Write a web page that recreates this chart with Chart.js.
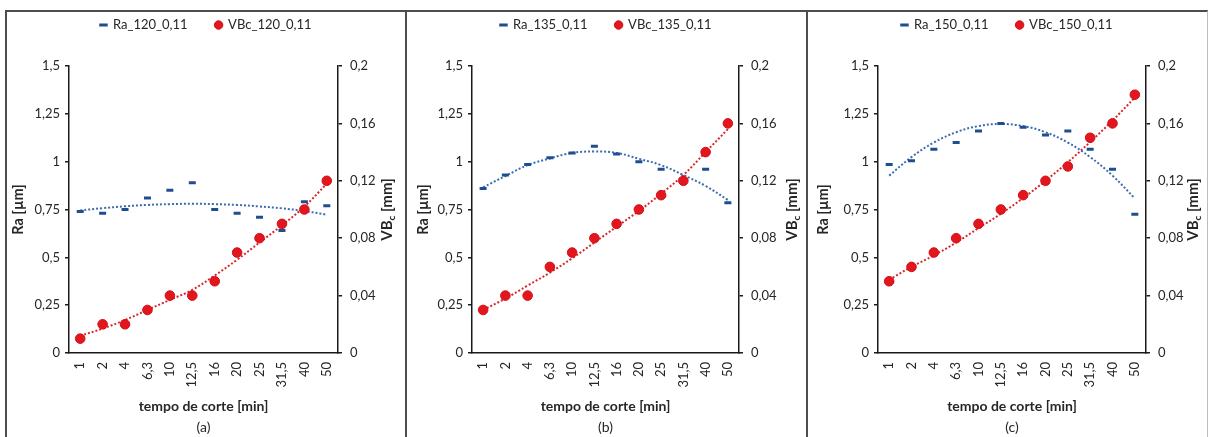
<!DOCTYPE html>
<html>
<head>
<meta charset="utf-8">
<script src="https://cdn.jsdelivr.net/npm/chart.js@4.4.1/dist/chart.umd.min.js"></script>
<style>
  html, body { margin: 0; padding: 0; background: #fff; }
  body { width: 1209px; height: 437px; position: relative; overflow: hidden; }
  .panel { position: absolute; top: 10px; height: 427px; border-left: 2px solid #4d4d4d; border-top: 2px solid #4d4d4d; }
  .panel canvas { position: absolute; left: 0; top: 0; }
</style>
</head>
<body>
<div class="panel" style="left:5px;width:398px"><canvas id="chartA" width="398" height="425"></canvas></div>
<div class="panel" style="left:405px;width:399px"><canvas id="chartB" width="398" height="425"></canvas></div>
<div class="panel" style="left:806px;width:399px;border-right:1px solid #bdbdbd"><canvas id="chartC" width="398" height="425"></canvas></div>
<script>
// tempo de corte [min]
const cuttingTimes = ["1", "2", "4", "6,3", "10", "12,5", "16", "20", "25", "31,5", "40", "50"];

// (a) 120 m/min
const ra120 = [0.74, 0.73, 0.75, 0.81, 0.85, 0.89, 0.75, 0.73, 0.71, 0.64, 0.79, 0.77];
const vbc120 = [0.01, 0.02, 0.02, 0.03, 0.04, 0.04, 0.05, 0.07, 0.08, 0.09, 0.10, 0.12];
const ra120Trend = [0.745, 0.757, 0.767, 0.774, 0.778, 0.78, 0.778, 0.774, 0.766, 0.756, 0.742, 0.723];
const vbc120Trend = [0.012, 0.017, 0.023, 0.030, 0.037, 0.044, 0.054, 0.065, 0.077, 0.089, 0.102, 0.118];

// (b) 135 m/min
const ra135 = [0.86, 0.93, 0.985, 1.02, 1.045, 1.08, 1.04, 1.0, 0.96, 0.90, 0.96, 0.785];
const vbc135 = [0.03, 0.04, 0.04, 0.06, 0.07, 0.08, 0.09, 0.10, 0.11, 0.12, 0.14, 0.16];
const ra135Trend = [0.866, 0.925, 0.982, 1.017, 1.046, 1.053, 1.046, 1.015, 0.982, 0.93, 0.873, 0.80];
const vbc135Trend = [0.030, 0.038, 0.047, 0.056, 0.066, 0.077, 0.088, 0.099, 0.111, 0.124, 0.140, 0.156];

// (c) 150 m/min
const ra150 = [0.985, 1.005, 1.065, 1.10, 1.16, 1.20, 1.18, 1.14, 1.16, 1.065, 0.96, 0.725];
const vbc150 = [0.05, 0.06, 0.07, 0.08, 0.09, 0.10, 0.11, 0.12, 0.13, 0.15, 0.16, 0.18];
const ra150Trend = [0.927, 1.024, 1.10, 1.154, 1.186, 1.197, 1.186, 1.154, 1.10, 1.024, 0.927, 0.808];
const vbc150Trend = [0.051, 0.060, 0.068, 0.077, 0.087, 0.097, 0.108, 0.120, 0.133, 0.147, 0.162, 0.178];

const raTicks = {min: 0, max: 1.5, step: 0.25};
const vbTicks = {min: 0, max: 0.2, step: 0.04};

const FONT = "Lato, 'Open Sans', sans-serif";
const TEXT = "#262626";
const AXIS = "#1a1a1a";
const BLUE = "#1f4e8f";
const BLUE_TREND = "#3a6bb0";
const RED = "#e3161e";
const RED_TREND = "#d8262c";

const PLOT_TOP = 54;     // top of plot area inside the canvas
const LEGEND_Y = 13;     // legend row centre inside the canvas

const comma = v => String(+Number(v).toFixed(2)).replace(".", ",");

// axis titles, caption, and legend placement
const panelTitles = {
  id: "panelTitles",
  afterInit(chart) {
    const lg = chart.legend;
    const fit = lg.fit;
    lg.fit = function () { fit.call(this); this.height = PLOT_TOP; };
  },
  afterLayout(chart) {
    const lg = chart.legend;
    const pad = lg.options.labels.padding, fs = lg.options.labels.font.size;
    const dy = LEGEND_Y - (lg.top + pad + fs / 2);
    lg.top += dy; lg.bottom += dy;
  },
  afterDraw(chart, args, o) {
    const {ctx, chartArea: a} = chart;
    const midY = (a.top + a.bottom) / 2;
    ctx.save();
    ctx.fillStyle = TEXT;
    ctx.textBaseline = "middle";
    ctx.textAlign = "center";

    ctx.save();
    ctx.font = "bold 14.5px " + FONT;
    ctx.translate(a.left - o.leftGap, midY);
    ctx.rotate(-Math.PI / 2);
    ctx.fillText("Ra [µm]", 0, 0);
    ctx.restore();

    ctx.save();
    ctx.translate(a.right + o.rightGap, midY);
    ctx.rotate(-Math.PI / 2);
    ctx.textAlign = "left";
    ctx.textBaseline = "alphabetic";
    const big = "bold 15px " + FONT, small = "bold 10px " + FONT;
    ctx.font = big; const w1 = ctx.measureText("VB").width; const w3 = ctx.measureText(" [mm]").width;
    ctx.font = small; const w2 = ctx.measureText("c").width;
    let x = -(w1 + w2 + w3) / 2;
    ctx.font = big; ctx.fillText("VB", x, 5); x += w1;
    ctx.font = small; ctx.fillText("c", x, 8); x += w2;
    ctx.font = big; ctx.fillText(" [mm]", x, 5);
    ctx.restore();

    const cx = (a.left + a.right) / 2;
    ctx.font = "bold 14px " + FONT;
    ctx.fillText("tempo de corte [min]", cx, o.xTitleY);
    ctx.font = "14px " + FONT;
    ctx.fillText(o.caption, cx, o.captionY);
    ctx.restore();
  }
};

function buildChart(id, speed, ra, vbc, raTrend, vbcTrend, frame) {
  const raName = "Ra_" + speed + "_0,11";
  const vbName = "VBc_" + speed + "_0,11";
  const tickFont = {family: FONT, size: 13};
  const yGrid = {drawOnChartArea: false, drawTicks: true, tickLength: 4, color: AXIS, lineWidth: 1.5};
  return new Chart(document.getElementById(id), {
    type: "line",
    data: {
      labels: cuttingTimes,
      datasets: [
        {label: raName, data: ra, yAxisID: "y", showLine: false, order: 2,
         pointStyle: "line", pointRadius: 3.5, pointHoverRadius: 3.5, pointBorderWidth: 3,
         borderColor: BLUE, backgroundColor: BLUE, borderWidth: 3},
        {label: vbName, data: vbc, yAxisID: "y1", showLine: false, order: 1,
         pointStyle: "circle", pointRadius: 4.8, pointHoverRadius: 4.8, pointBorderWidth: 1,
         borderColor: "#d01018", backgroundColor: RED, borderWidth: 1},
        {label: "trend Ra", data: raTrend, yAxisID: "y", order: 3, pointRadius: 0,
         borderColor: BLUE_TREND, borderWidth: 2, borderDash: [2, 2], tension: 0.4, fill: false},
        {label: "trend VBc", data: vbcTrend, yAxisID: "y1", order: 3, pointRadius: 0,
         borderColor: RED_TREND, borderWidth: 2, borderDash: [2, 2], tension: 0.4, fill: false}
      ]
    },
    options: {
      responsive: false,
      animation: false,
      layout: {padding: 0},
      scales: {
        x: {
          type: "category", offset: true,
          grid: {display: false, drawTicks: false},
          border: {display: true, color: AXIS, width: 1.5},
          ticks: {autoSkip: false, minRotation: 90, maxRotation: 90, padding: 9, font: tickFont, color: TEXT},
          afterFit: s => { s.height = 84; }
        },
        y: {
          position: "left", min: raTicks.min, max: raTicks.max,
          grid: yGrid, border: {color: AXIS, width: 1.5},
          ticks: {stepSize: raTicks.step, padding: 5, font: tickFont, color: TEXT, callback: comma},
          afterFit: s => { s.width = frame.leftW; }
        },
        y1: {
          position: "right", min: vbTicks.min, max: vbTicks.max,
          grid: yGrid, border: {color: AXIS, width: 1.5},
          ticks: {stepSize: vbTicks.step, padding: 8, font: tickFont, color: TEXT, callback: comma},
          afterFit: s => { s.width = frame.rightW; }
        }
      },
      plugins: {
        legend: {
          position: "top",
          labels: {
            usePointStyle: true, boxWidth: 6, boxHeight: 6, padding: 28,
            font: {family: FONT, size: 13}, color: TEXT,
            filter: item => item.datasetIndex < 2,
            sort: (a, b) => a.datasetIndex - b.datasetIndex
          }
        },
        tooltip: {enabled: false},
        panelTitles: {caption: frame.caption, leftGap: frame.leftGap, rightGap: frame.rightGap, xTitleY: 394, captionY: 415}
      }
    },
    plugins: [panelTitles]
  });
}

buildChart("chartA", 120, ra120, vbc120, ra120Trend, vbc120Trend,
  {leftW: 62, rightW: 67, leftGap: 51, rightGap: 49, caption: "(a)"});
buildChart("chartB", 135, ra135, vbc135, ra135Trend, vbc135Trend,
  {leftW: 65, rightW: 66, leftGap: 49, rightGap: 53, caption: "(b)"});
buildChart("chartC", 150, ra150, vbc150, ra150Trend, vbc150Trend,
  {leftW: 70, rightW: 60, leftGap: 55, rightGap: 47, caption: "(c)"});
</script>
</body>
</html>
